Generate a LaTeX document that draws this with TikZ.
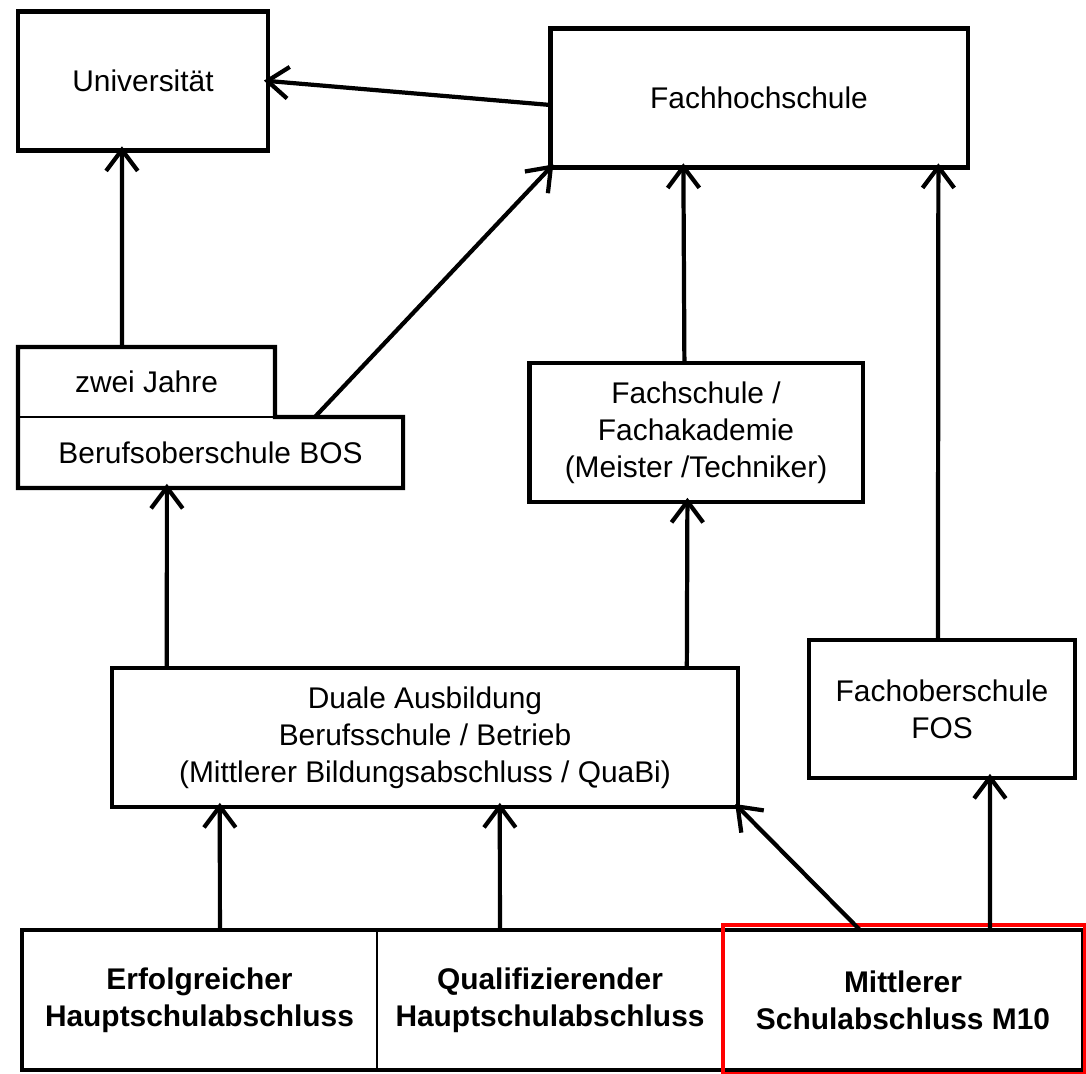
\documentclass[tikz,border=0pt]{standalone}
\usepackage{fontspec}
\setmainfont{Liberation Sans}
\usepackage{tikz}
\usetikzlibrary{arrows.meta,calc}

\begin{document}
\begin{tikzpicture}[x=0.01cm, y=-0.01cm, >={Straight Barb[length=6pt,width=9pt]},
  box/.style={draw, line width=1.2pt, minimum width=#1, inner sep=0pt, outer sep=0pt,
    align=center, font=\fontsize{8.5}{10.5}\selectfont},
  flow/.style={->, line width=1.2pt, shorten >=-1.2pt}]
\useasboundingbox (0,0) rectangle (1086,1074);

% upper schools
\node[box=2.50cm, minimum height=1.39cm] (uni) at (143,81) {Universit\"at};
\node[box=4.17cm, minimum height=1.39cm] (fh) at (759,98) {Fachhochschule};

% BOS with tab
\node[minimum width=2.57cm, minimum height=0.70cm, inner sep=0pt, outer sep=0pt,
  font=\fontsize{8.5}{10.5}\selectfont] (zwei) at (146.5,382) {zwei Jahre};
\node[minimum width=3.85cm, minimum height=0.71cm, inner sep=0pt, outer sep=0pt,
  font=\fontsize{8.5}{10.5}\selectfont] (bos) at (210.5,452.5) {Berufsoberschule BOS};
\draw[line width=1.2pt] (zwei.south west) |- (zwei.north east) -- (zwei.south east)
  -- (bos.north east) |- (bos.south west) -- cycle;
\draw[line width=0.6pt] (zwei.south west) -- (zwei.south east);

\node[box=3.33cm, minimum height=1.39cm] (fs) at (696,432.5)
  {Fachschule /\\Fachakademie\\(Meister /Techniker)};
\node[box=6.26cm, minimum height=1.39cm] (dual) at (425,737.5)
  {Duale Ausbildung\\Berufsschule / Betrieb\\(Mittlerer Bildungsabschluss / QuaBi)};
\node[box=2.66cm, minimum height=1.38cm] (fos) at (942,709) {Fachoberschule\\FOS};

% school leaving certificates
\begin{scope}[every node/.style={minimum height=1.40cm, inner sep=0pt, outer sep=0pt,
    align=center, font=\fontsize{8.5}{10.5}\selectfont\bfseries}]
\node[minimum width=3.55cm] (erf) at (199.5,1000) {Erfolgreicher\\Hauptschulabschluss};
\node[minimum width=3.46cm] (qual) at (550,1000) {Qualifizierender\\Hauptschulabschluss};
\node[minimum width=3.60cm] (m10) at (903,1000) {Mittlerer\\Schulabschluss M10};
\end{scope}
\draw[line width=1.2pt] (erf.north west) rectangle (m10.south east);
\draw[line width=0.6pt] (erf.north east) -- (erf.south east);
\draw[line width=0.6pt] (qual.north east) -- (qual.south east);
\draw[red, line width=1.2pt] ($(m10.north west)+(0,-5)$) rectangle ($(m10.south east)+(2,4)$);

% arrows
\draw[flow] ($(zwei.north west)+(104,0)$) -- ($(uni.south west)+(104,0)$);
\draw[flow] ($(fh.west)+(0,7)$) -- (uni.east);
\draw[flow] ($(bos.north west)+(297,0)$) -- (fh.south west);
\draw[flow] ($(fs.north west)+(155,0)$) -- ($(fh.south west)+(133,0)$);
\draw[flow] ($(fos.north west)+(129,0)$) -- ($(fh.south west)+(388,0)$);
\draw[flow] ($(dual.north west)+(55,0)$) -- ($(bos.south west)+(149,0)$);
\draw[flow] ($(dual.north west)+(575,0)$) -- ($(fs.south west)+(158,0)$);
\draw[flow] ($(erf.north west)+(198,0)$) -- ($(dual.south west)+(108,0)$);
\draw[flow] ($(qual.north west)+(123,0)$) -- ($(dual.south west)+(388,0)$);
\draw[flow] ($(m10.north west)+(137,0)$) -- (dual.south east);
\draw[flow] ($(m10.north west)+(267,0)$) -- ($(fos.south west)+(181,0)$);
\end{tikzpicture}
\end{document}
